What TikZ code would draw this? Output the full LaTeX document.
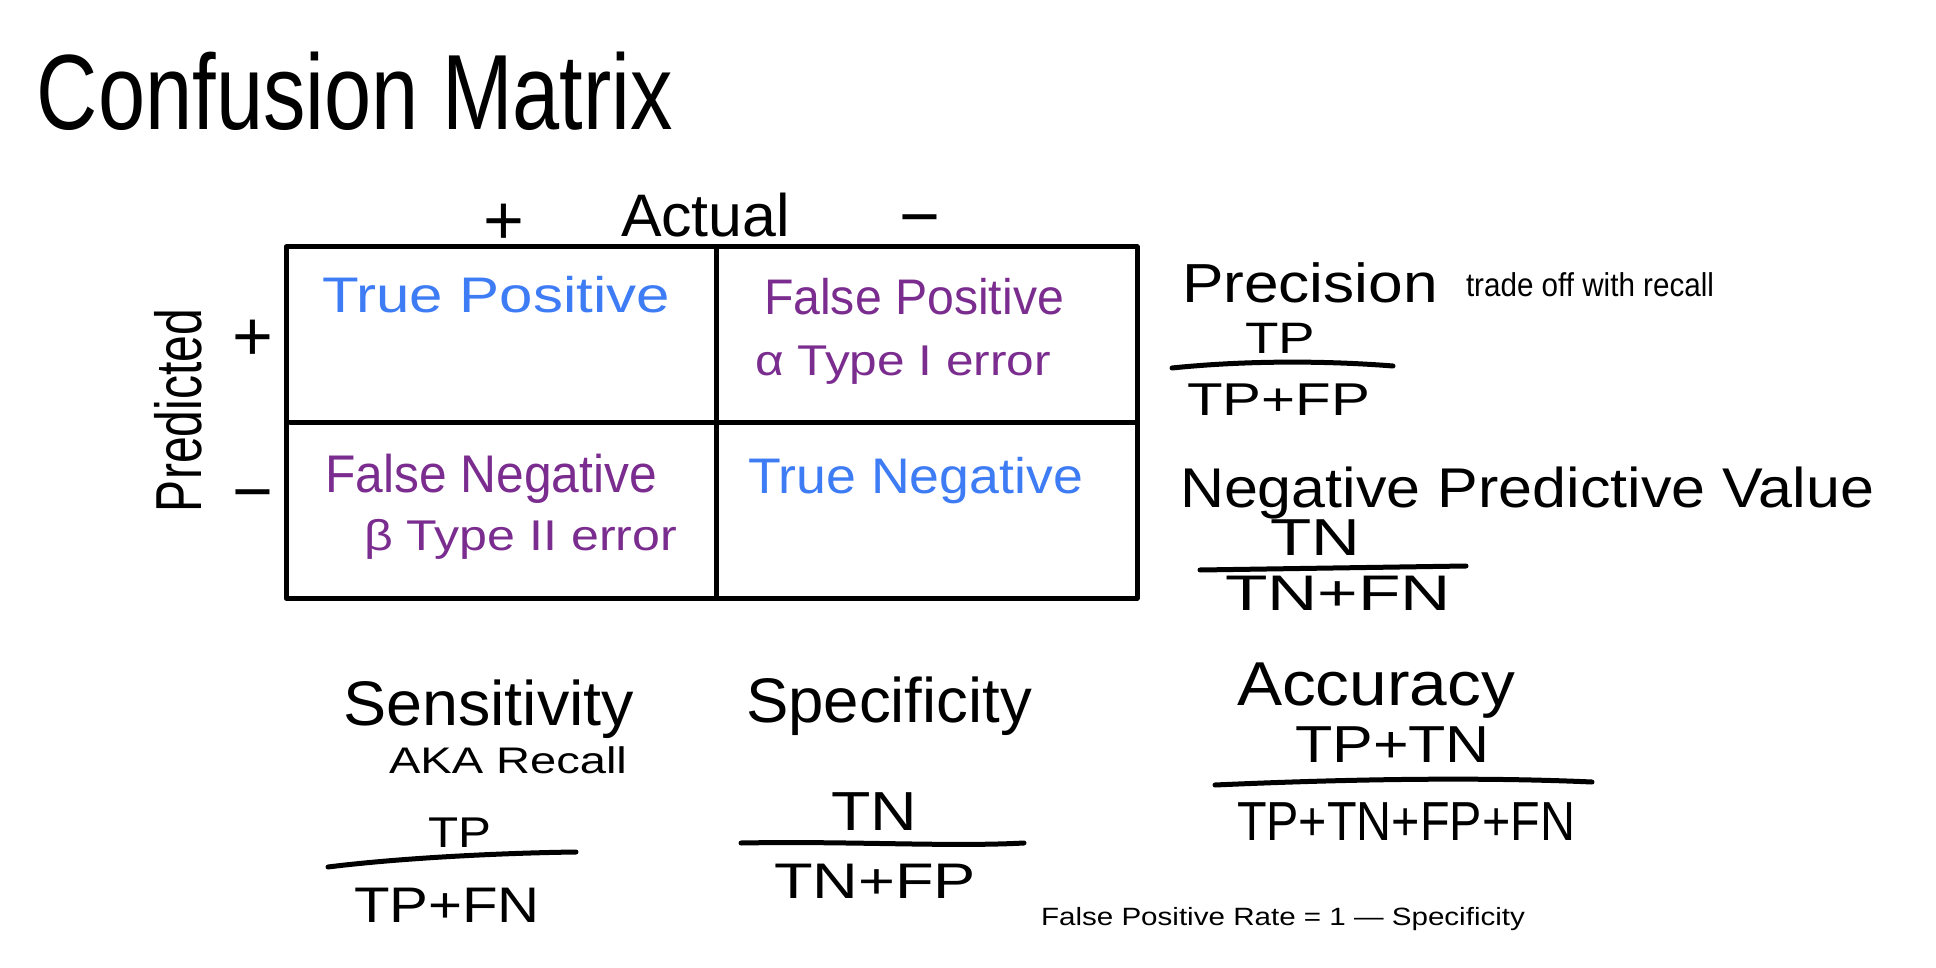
\documentclass[tikz,border=0pt]{standalone}
\usepackage{fontspec}
\usepackage{graphicx}
\setmainfont{Liberation Sans}
\definecolor{hwblue}{RGB}{61,124,245}
\definecolor{hwpurple}{RGB}{123,44,143}
\newcommand\hw[3]{\resizebox{#1pt}{\height}{\fontsize{#2pt}{#2pt}\selectfont #3}}
\tikzset{
  lbl/.style={inner sep=0pt, outer sep=0pt, anchor=base west},
  sgn/.style={inner sep=0pt, outer sep=0pt, anchor=base, font=\fontsize{70pt}{70pt}\selectfont},
  grid/.style={line width=5pt, line cap=round, line join=round},
  frac/.style={line width=5pt, line cap=round}
}
\begin{document}
\begin{tikzpicture}[x=1pt,y=-1pt]
\useasboundingbox[fill=white] (0,0) rectangle (1936,968);
% title
\node[lbl] (title) at (37,130) {\hw{636}{107}{Confusion Matrix}};
% header
\node[sgn] (aplus) at (504,245) {+};
\node[lbl] (actual) at (621,237) {\hw{169}{60}{Actual}};
\node[sgn] (aminus) at (920,241) {−};
\node[lbl, rotate=90] (pred) at (201,512) {\hw{203}{65}{Predicted}};
\node[sgn] (pplus) at (253,360) {+};
\node[sgn] (pminus) at (253,515) {−};
% matrix
\coordinate (nw) at (286,247);
\coordinate (se) at (1137,598);
\coordinate (mt) at (716,247);
\coordinate (mb) at (716,598);
\coordinate (ml) at (290,422);
\coordinate (mr) at (1137,422);
\draw[grid] (nw) rectangle (se);
\draw[grid] (mt) -- (mb);
\draw[grid] (ml) -- (mr);
% cells
\node[lbl, text=hwblue] (tp) at (322,313) {\hw{348}{50}{True Positive}};
\node[lbl, text=hwpurple] (fp) at (764,315) {\hw{300}{50}{False Positive}};
\node[lbl, text=hwpurple] (alpha) at (755,375) {\hw{296}{43}{α Type I error}};
\node[lbl, text=hwpurple] (fn) at (325,492) {\hw{332}{53}{False Negative}};
\node[lbl, text=hwpurple] (beta) at (364,550) {\hw{313}{43}{β Type II error}};
\node[lbl, text=hwblue] (tn) at (748,493) {\hw{335}{50}{True Negative}};
% precision
\node[lbl] (prec) at (1182,302) {\hw{256}{55}{Precision}};
\node[lbl] (trade) at (1466,297) {\hw{248}{33}{trade off with recall}};
\node[lbl] (precn) at (1245,353) {\hw{70}{44}{TP}};
\coordinate (p1) at (1172,368); \coordinate (p2) at (1393,366);
\draw[frac] (p1) .. controls (1250,360) and (1330,361) .. (p2);
\node[lbl] (precd) at (1187,415) {\hw{183}{46}{TP+FP}};
% NPV
\node[lbl] (npv) at (1180,507) {\hw{694}{56}{Negative Predictive Value}};
\node[lbl] (npvn) at (1270,555) {\hw{90}{52}{TN}};
\coordinate (n1) at (1200,570); \coordinate (n2) at (1466,566);
\draw[frac] (n1) -- (n2);
\node[lbl] (npvd) at (1225,610) {\hw{226}{50}{TN+FN}};
% sensitivity
\node[lbl] (sens) at (343,725) {\hw{291}{63}{Sensitivity}};
\node[lbl] (aka) at (389,773) {\hw{238}{37}{AKA Recall}};
\node[lbl] (sensn) at (428,847) {\hw{63}{43}{TP}};
\coordinate (s1) at (328,867); \coordinate (s2) at (576,852);
\draw[frac] (s1) .. controls (400,858) and (500,853) .. (s2);
\node[lbl] (sensd) at (354,922) {\hw{186}{50}{TP+FN}};
% specificity
\node[lbl] (spec) at (746,722) {\hw{286}{63}{Specificity}};
\node[lbl] (specn) at (831,830) {\hw{86}{55}{TN}};
\coordinate (c1) at (741,843); \coordinate (c2) at (1024,843);
\draw[frac] (c1) .. controls (850,841) and (950,847) .. (c2);
\node[lbl] (specd) at (774,898) {\hw{202}{50}{TN+FP}};
% accuracy
\node[lbl] (acc) at (1237,705) {\hw{278}{62}{Accuracy}};
\node[lbl] (accn) at (1295,762) {\hw{195}{52}{TP+TN}};
\coordinate (a1) at (1215,785); \coordinate (a2) at (1592,782);
\draw[frac] (a1) .. controls (1350,779) and (1480,777) .. (a2);
\node[lbl] (accd) at (1237,840) {\hw{338}{55}{TP+TN+FP+FN}};
% FPR
\node[lbl] (fpr) at (1041,925) {\hw{484}{25}{False Positive Rate = 1 — Specificity}};
\end{tikzpicture}
\end{document}
